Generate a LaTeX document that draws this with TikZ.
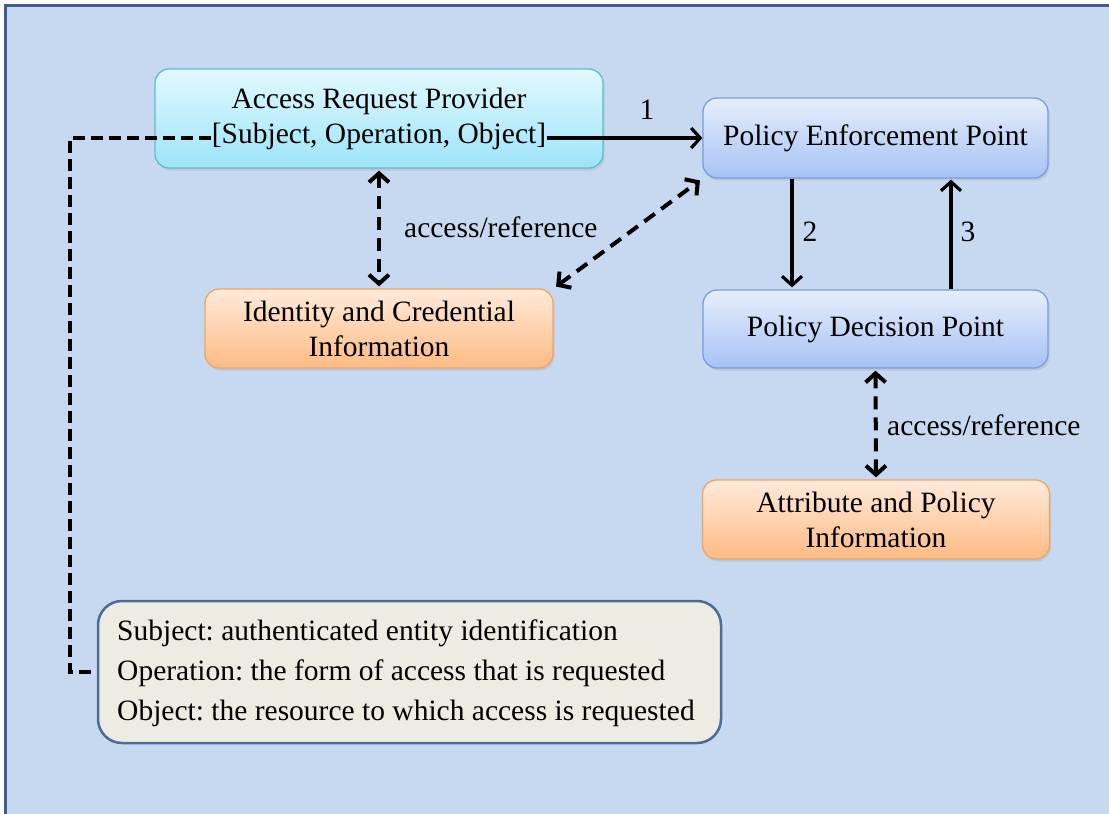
\documentclass[tikz,border=0pt]{standalone}
\usepackage{fontspec}
\setmainfont{Liberation Serif}
\usetikzlibrary{arrows.meta,shadows}
\definecolor{bgblue}{HTML}{C6D9F1}
\definecolor{frameblue}{HTML}{3C5E8E}
\definecolor{cyantop}{HTML}{E2F9FF}
\definecolor{cyanbot}{HTML}{9CE4F8}
\definecolor{cyanedge}{HTML}{62B9CF}
\definecolor{bluetop}{HTML}{E6EEFC}
\definecolor{bluebot}{HTML}{A6C2F5}
\definecolor{blueedge}{HTML}{7A9DD4}
\definecolor{orangetop}{HTML}{FFEADB}
\definecolor{orangebot}{HTML}{FDBB84}
\definecolor{orangeedge}{HTML}{F2A465}
\definecolor{notefill}{HTML}{EEEBE1}
\definecolor{noteedge}{HTML}{4A6C99}
\frenchspacing
\begin{document}
\begin{tikzpicture}[x=1pt,y=-1pt,
  box/.style={rounded corners=14pt, draw, line width=1.3pt, align=center, inner sep=0pt,
    font=\fontsize{29.5}{35}\selectfont,
    drop shadow={opacity=0.18, shadow xshift=1.5pt, shadow yshift=-2.5pt}},
  cyanbox/.style={box, draw=cyanedge, top color=cyantop, bottom color=cyanbot},
  bluebox/.style={box, draw=blueedge, top color=bluetop, bottom color=bluebot},
  orangebox/.style={box, draw=orangeedge, top color=orangetop, bottom color=orangebot},
  notebox/.style={rounded corners=24pt, draw=noteedge, fill=notefill, line width=2.5pt,
    inner sep=0pt},
  notetext/.style={align=left, inner sep=0pt, font=\fontsize{29.5}{40}\selectfont},
  solidarrow/.style={line width=3.2pt, -{Straight Barb[length=9pt,width=20pt]}},
  dasharrow/.style={line width=4pt, dash pattern=on 13pt off 8pt,
    {Straight Barb[length=9pt,width=20pt]}-{Straight Barb[length=9pt,width=20pt]}},
  dashline/.style={line width=3.5pt, dash pattern=on 12pt off 6pt},
  lbl/.style={font=\fontsize{29.5}{35}\selectfont, inner sep=0pt}
]
\useasboundingbox (0,0) rectangle (1109,814);
\fill[white] (0,0) rectangle (1109,814);
\fill[frameblue] (4,4) rectangle (1109,814);
\fill[bgblue] (7,7) rectangle (1109,814);

% nodes
\node[cyanbox, minimum width=448pt, minimum height=99pt] (arp) at (379,118.5)
  {Access Request Provider\\{[}Subject, Operation, Object{]}};
\node[bluebox, minimum width=345pt, minimum height=80pt] (pep) at (875.5,138)
  {Policy Enforcement Point};
\node[bluebox, minimum width=345pt, minimum height=78pt] (pdp) at (875.5,329)
  {Policy Decision Point};
\node[orangebox, minimum width=348pt, minimum height=79pt] (ici) at (379,328.5)
  {Identity and Credential\\Information};
\node[orangebox, minimum width=347pt, minimum height=79pt] (api) at (876,519.5)
  {Attribute and Policy\\Information};
\node[notebox, minimum width=623pt, minimum height=142pt] (note) at (409.5,672) {};
\node[notetext, anchor=west] (notetxt) at (117,673)
  {Subject: authenticated entity identification\\
   Operation: the form of access that is requested\\
   Object: the resource to which access is requested};

% named points on the ARP text line
\coordinate (arpL) at (211,138);
\coordinate (arpR) at (547,138);
\coordinate (bend) at (70,138);

% connectors
\draw[solidarrow] (arpR) -- (pep.west);
\node[lbl] (l1) at (647,110) {1};

\draw[solidarrow, shorten >=2pt] ([xshift=-83.5pt]pep.south) -- ([xshift=-83.5pt]pdp.north);
\node[lbl] (l2) at (810,232) {2};
\draw[solidarrow, shorten >=1pt] ([xshift=75.5pt]pdp.north) -- ([xshift=75.5pt]pep.south);
\node[lbl] (l3) at (968,232) {3};

\draw[dasharrow, shorten <=2pt, shorten >=2pt] (arp.south) -- (ici.north);
\node[lbl, anchor=west] (ar1) at (404,227) {access/reference};

\draw[dasharrow, shorten <=3pt, shorten >=3pt] (ici.north east) -- (pep.south west);

\draw[dasharrow, shorten <=2pt, shorten >=2pt] (pdp.south) -- (api.north);
\node[lbl, anchor=west] (ar2) at (887,425) {access/reference};

\draw[dashline] (arpL) -- (bend) |- (note.west);
\end{tikzpicture}
\end{document}
